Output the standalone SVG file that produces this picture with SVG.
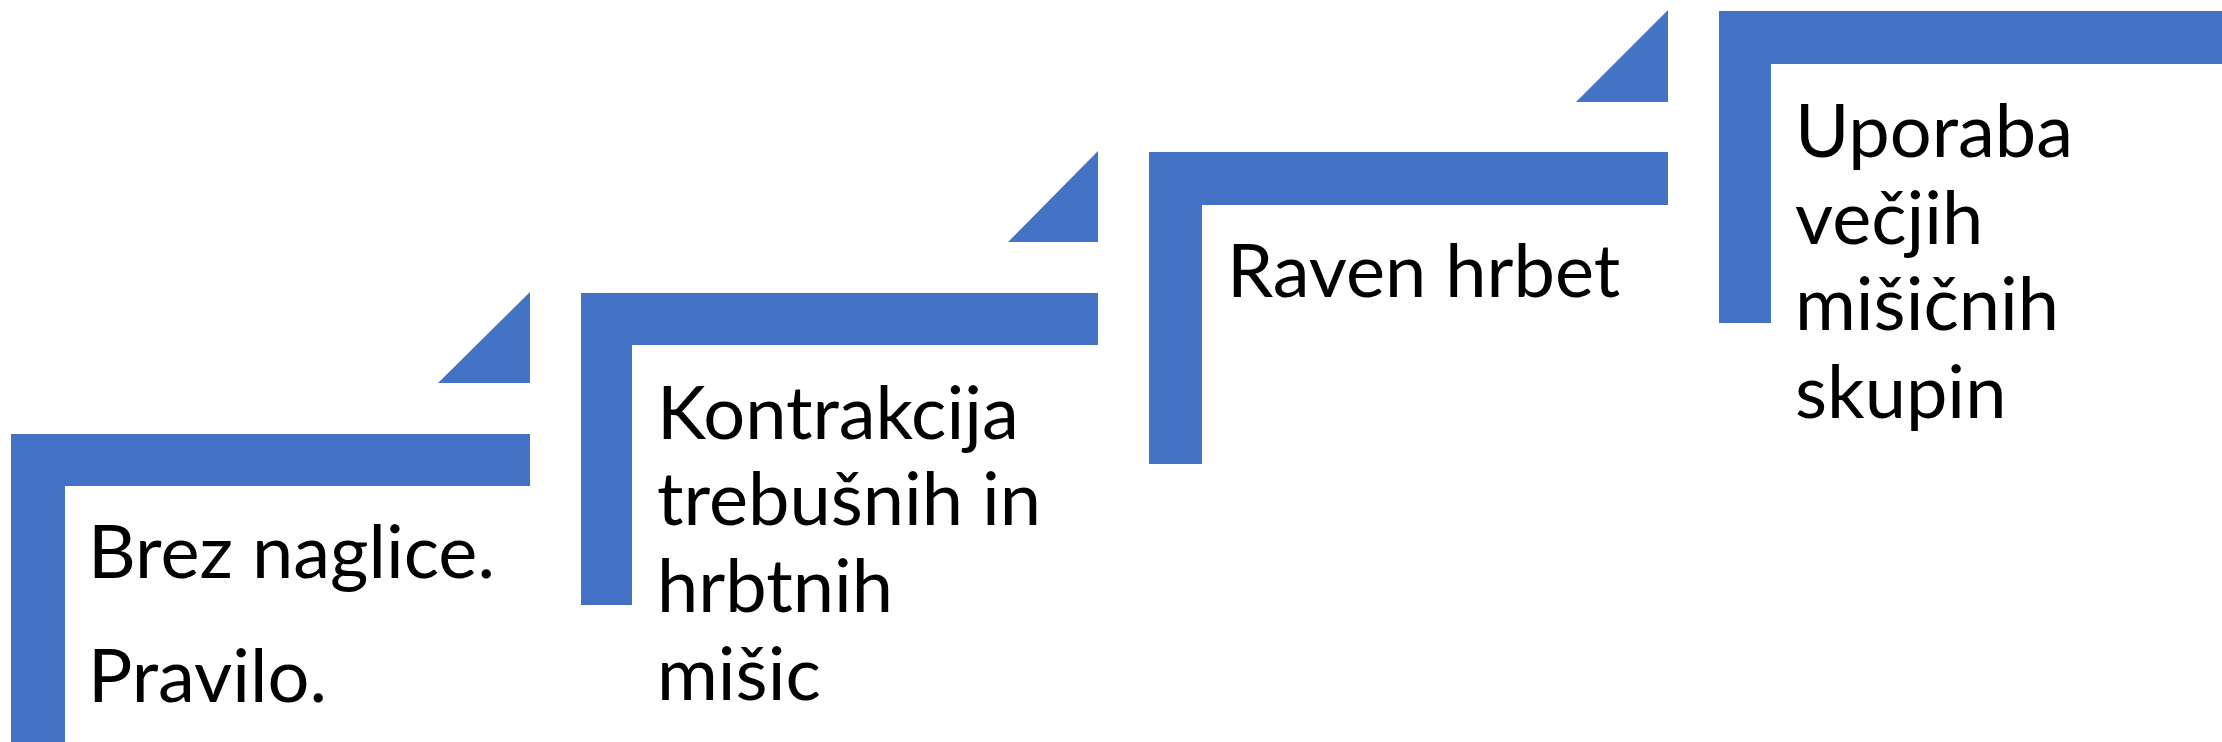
<svg xmlns="http://www.w3.org/2000/svg" width="2222" height="742" viewBox="0 0 2222 742">
<style>
.b{fill:#4472C4}
.t{font-family:Lato,"Liberation Sans",sans-serif;font-size:74px;fill:#000}
</style>
<rect width="2222" height="742" fill="#fff"/>
<g id="step1">
<path class="b" d="M11,434 H530 V486 H65 V742 H11 Z"/>
<path class="b" d="M438,383 L530,292 V383 Z"/>
<text class="t" x="88" y="578">Brez naglice.</text>
<text class="t" x="88" y="702">Pravilo.</text>
</g>
<g id="step2">
<path class="b" d="M581,293 H1098 V345 H632 V605 H581 Z"/>
<path class="b" d="M1008,242 L1098,151 V242 Z"/>
<text class="t" x="657" y="439">Kontrakcija</text>
<text class="t" x="657" y="525">trebušnih in</text>
<text class="t" x="657" y="612">hrbtnih</text>
<text class="t" x="657" y="700">mišic</text>
</g>
<g id="step3">
<path class="b" d="M1149,152 H1668 V205 H1202 V464 H1149 Z"/>
<path class="b" d="M1576,102 L1668,10 V102 Z"/>
<text class="t" x="1227" y="297">Raven hrbet</text>
</g>
<g id="step4">
<path class="b" d="M1719,11 H2222 V64 H1771 V323 H1719 Z"/>
<text class="t" x="1795" y="157">Uporaba</text>
<text class="t" x="1795" y="244">večjih</text>
<text class="t" x="1795" y="330">mišičnih</text>
<text class="t" x="1795" y="418">skupin</text>
</g>
<g id="connectors"></g>
</svg>
